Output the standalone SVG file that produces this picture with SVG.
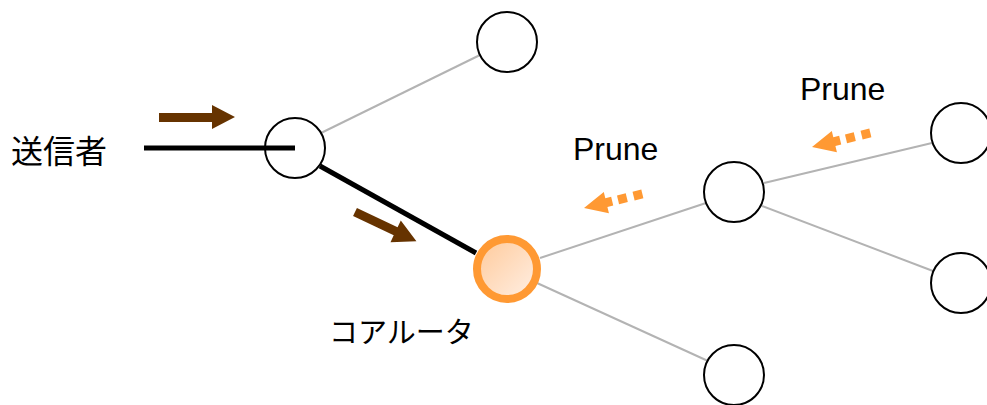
<svg xmlns="http://www.w3.org/2000/svg" width="987" height="405" viewBox="0 0 987 405">
<defs>
<linearGradient id="coreGrad" x1="0" y1="0" x2="1" y2="1">
<stop offset="0" stop-color="#FFC999"/>
<stop offset="1" stop-color="#FFF0E6"/>
</linearGradient>
<style>
.node{fill:#fff;stroke:#000;stroke-width:2}
.core{fill:url(#coreGrad);stroke:#FF9933;stroke-width:8}
.thin{stroke:#B3B3B3;stroke-width:2;fill:none}
.thick{stroke:#000;stroke-width:5;fill:none}
.brown{fill:#663300}
.orange{fill:#FF9933}
text{font-family:"Liberation Sans","Noto Sans CJK JP",sans-serif;fill:#000}
</style>
</defs>
<rect width="987" height="405" fill="#fff"/>
<g id="connectors">
<line class="thin" x1="321" y1="133" x2="480" y2="55"/>
<line class="thin" x1="540" y1="258" x2="706" y2="203"/>
<line class="thin" x1="537" y1="283" x2="708" y2="361"/>
<line class="thin" x1="764" y1="183" x2="932" y2="143"/>
<line class="thin" x1="762" y1="206" x2="933" y2="271"/>
<line class="thick" x1="320" y1="166" x2="476" y2="253"/>
</g>
<g id="top"><circle class="node" cx="507" cy="42" r="30"/></g>
<g id="router1"><circle class="node" cx="295" cy="148" r="30"/></g>
<g id="core"><circle class="core" cx="507" cy="269" r="30"/></g>
<g id="mid"><circle class="node" cx="734" cy="192" r="30"/></g>
<g id="rtop"><circle class="node" cx="961" cy="133" r="30"/></g>
<g id="rbottom"><circle class="node" cx="961" cy="283" r="30"/></g>
<g id="bottom"><circle class="node" cx="734" cy="375" r="30"/></g>
<g id="sender">
<line class="thick" x1="144" y1="148" x2="295" y2="148"/>
<text x="11" y="163" font-size="32">送信者</text>
</g>
<g id="arrows">
<polygon class="brown" points="159,113 212,113 212,105 235,117 212,129 212,122 159,122"/>
<polygon class="brown" transform="translate(355,212) rotate(25.4)" points="0,-4.5 45,-4.5 45,-12 68,0 45,12 45,4.5 0,4.5"/>
<g class="orange" transform="translate(584,208) rotate(-13.5)">
<polygon points="0,0 23,-11 23,-4.5 29,-4.5 29,4.5 23,4.5 23,11"/>
<rect x="35" y="-4.5" width="9" height="9"/>
<rect x="51" y="-4.5" width="9" height="9"/>
</g>
<g class="orange" transform="translate(812,147) rotate(-13.5)">
<polygon points="0,0 23,-11 23,-4.5 29,-4.5 29,4.5 23,4.5 23,11"/>
<rect x="35" y="-4.5" width="9" height="9"/>
<rect x="51" y="-4.5" width="9" height="9"/>
</g>
</g>
<g id="labels">
<text x="573" y="160" font-size="32">Prune</text>
<text x="800" y="100" font-size="32">Prune</text>
<text x="329" y="343" font-size="29">コアルータ</text>
</g>
</svg>
